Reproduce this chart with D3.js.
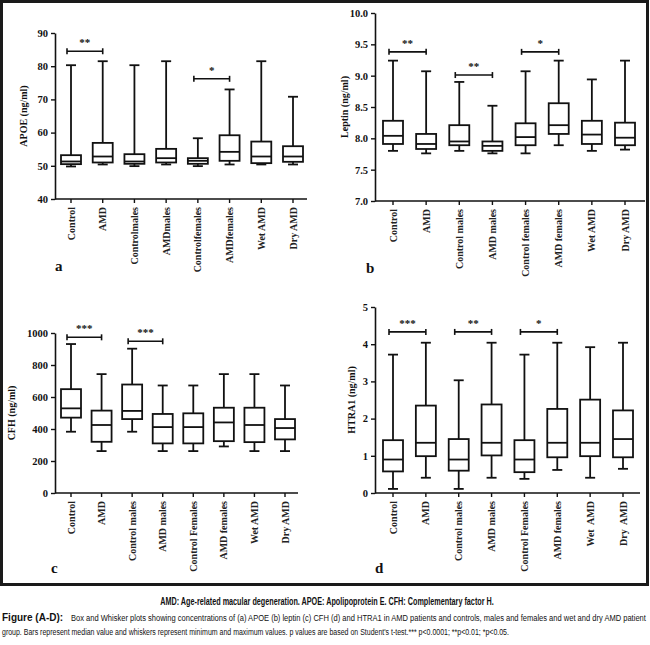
<!DOCTYPE html>
<html>
<head>
<meta charset="utf-8">
<script src="https://cdn.jsdelivr.net/npm/d3@7"></script>
<style>
  body { margin: 0; background: #fff; }
  svg { display: block; }
</style>
</head>
<body>
<svg width="650" height="645"></svg>
<script>
// five number summaries per group: [min, q1, median, q3, max]
const groupsA = ["Control", "AMD", "Controlmales", "AMDmales", "Controlfemales", "AMDfemales", "Wet AMD", "Dry AMD"];
const groupsB = ["Control", "AMD", "Control males", "AMD males", "Control females", "AMD females", "Wet AMD", "Dry AMD"];
const groupsC = ["Control", "AMD", "Control males", "AMD males", "Control Females", "AMD females", "Wet AMD", "Dry AMD"];
const groupsD = ["Control", "AMD", "Control males", "AMD males", "Control Females", "AMD females", "Wet  AMD", "Dry  AMD"];

const apoeStats = [[49.8, 50.5, 51.3, 53.2, 80.3], [50.4, 51.0, 52.8, 56.9, 81.5], [49.9, 50.6, 51.3, 53.5, 80.3], [50.4, 51.0, 52.3, 55.1, 81.5],
                   [49.9, 50.6, 51.5, 52.3, 58.3], [50.4, 51.5, 54.2, 59.2, 73.0], [50.4, 50.8, 52.8, 57.3, 81.5], [50.4, 51.2, 52.8, 55.9, 70.8]];
const apoeTicks = [40, 50, 60, 70, 80, 90];
const apoeSig = [[0, 1, 84.5, "**"], [4, 5, 76.2, "*"]];

const leptinStats = [[7.80, 7.91, 8.04, 8.28, 9.24], [7.76, 7.83, 7.91, 8.07, 9.07], [7.80, 7.89, 7.95, 8.21, 8.90], [7.76, 7.80, 7.88, 7.95, 8.52],
                     [7.76, 7.89, 8.02, 8.24, 9.07], [7.89, 8.07, 8.21, 8.56, 9.24], [7.80, 7.91, 8.06, 8.28, 8.94], [7.82, 7.89, 8.01, 8.25, 9.24]];
const leptinTicks = [7.0, 7.5, 8.0, 8.5, 9.0, 9.5, 10.0];
const leptinSig = [[0, 1, 9.38, "**"], [2, 3, 9.01, "**"], [4, 5, 9.38, "*"]];

const cfhStats = [[383, 471, 529, 649, 931], [262, 320, 425, 515, 743], [383, 462, 513, 678, 902], [262, 310, 412, 494, 672],
                  [262, 310, 412, 498, 672], [291, 324, 441, 533, 743], [262, 318, 425, 533, 743], [262, 335, 406, 462, 672]];
const cfhTicks = [0, 200, 400, 600, 800, 1000];
const cfhSig = [[0, 1, 973, "***"], [2, 3, 948, "***"]];

const htraStats = [[0.11, 0.58, 0.90, 1.42, 3.72], [0.41, 0.99, 1.35, 2.35, 4.04], [0.11, 0.60, 0.90, 1.45, 3.03], [0.41, 1.01, 1.35, 2.38, 4.04],
                   [0.38, 0.56, 0.90, 1.42, 3.72], [0.62, 0.96, 1.35, 2.26, 4.04], [0.41, 0.99, 1.35, 2.51, 3.92], [0.65, 0.96, 1.45, 2.22, 4.04]];
const htraTicks = [0, 1, 2, 3, 4, 5];
const htraSig = [[0, 1, 4.33, "***"], [2, 3, 4.33, "**"], [4, 5, 4.33, "*"]];

const svg = d3.select("svg");
const serif = "'Liberation Serif', 'DejaVu Serif', serif";
const narrow = "'Liberation Sans Narrow', 'Liberation Sans', sans-serif";

// outer frame around the four panels
svg.append("rect")
    .attr("x", 1.5).attr("y", 1.5)
    .attr("width", 646).attr("height", 583)
    .attr("fill", "none").attr("stroke", "#1a1a1a").attr("stroke-width", 3);

const panels = [
    { groups: groupsA, stats: apoeStats, ticks: apoeTicks, sig: apoeSig, fmt: d3.format("d"), label: "APOE (ng/ml)",
      x0: 55, x1: 307, cx: [71, 293], yr: [199, 33], labX: 27, letter: "a", lx: 55, ly: 271 },
    { groups: groupsB, stats: leptinStats, ticks: leptinTicks, sig: leptinSig, fmt: d3.format(".1f"), label: "Leptin (ng/ml)",
      x0: 375, x1: 645, cx: [393, 625], yr: [201, 13], labX: 348, letter: "b", lx: 366, ly: 273 },
    { groups: groupsC, stats: cfhStats, ticks: cfhTicks, sig: cfhSig, fmt: d3.format("d"), label: "CFH (ng/ml)",
      x0: 55, x1: 298, cx: [71, 285], yr: [493, 333], labX: 15, letter: "c", lx: 51, ly: 573 },
    { groups: groupsD, stats: htraStats, ticks: htraTicks, sig: htraSig, fmt: d3.format("d"), label: "HTRA1 (ng/ml)",
      x0: 375, x1: 640, cx: [393, 623], yr: [493, 307], labX: 355, letter: "d", lx: 375, ly: 573 }
];

panels.forEach(function(p) {
    const g = svg.append("g");
    const y = d3.scaleLinear().domain(d3.extent(p.ticks)).range(p.yr);
    const x = d3.scalePoint().domain(d3.range(p.groups.length)).range(p.cx);
    const boxW = 20, capW = 10;

    // y axis
    const yAxis = g.append("g")
        .attr("transform", `translate(${p.x0},0)`)
        .call(d3.axisLeft(y).tickValues(p.ticks).tickFormat(p.fmt).tickSize(4).tickSizeOuter(0));
    yAxis.select(".domain").attr("stroke-width", 1.6).attr("stroke", "#111");
    yAxis.selectAll(".tick line").attr("stroke-width", 1.4).attr("stroke", "#111");
    yAxis.selectAll("text")
        .attr("font-family", serif).attr("font-size", 10.5).attr("font-weight", "bold").attr("fill", "#111");

    // x axis line with category ticks
    const base = p.yr[0];
    g.append("line")
        .attr("x1", p.x0).attr("x2", p.x1).attr("y1", base).attr("y2", base)
        .attr("stroke", "#111").attr("stroke-width", 1.6);
    g.selectAll(".xtick")
        .data(p.groups)
        .enter().append("line")
        .attr("x1", (d, i) => x(i)).attr("x2", (d, i) => x(i))
        .attr("y1", base).attr("y2", base + 4)
        .attr("stroke", "#111").attr("stroke-width", 1.4);
    g.selectAll(".xlab")
        .data(p.groups)
        .enter().append("text")
        .attr("transform", (d, i) => `translate(${x(i) + 3.5},${base + 8}) rotate(-90)`)
        .attr("text-anchor", "end")
        .attr("font-family", serif).attr("font-size", 10).attr("font-weight", "bold").attr("fill", "#222")
        .style("white-space", "pre")
        .text(d => d);

    // y axis title
    g.append("text")
        .attr("transform", `translate(${p.labX},${(p.yr[0] + p.yr[1]) / 2}) rotate(-90)`)
        .attr("text-anchor", "middle")
        .attr("font-family", serif).attr("font-size", 10).attr("font-weight", "bold").attr("fill", "#111")
        .text(p.label);

    // boxes and whiskers
    const box = g.selectAll(".box")
        .data(p.stats)
        .enter().append("g")
        .attr("transform", (d, i) => `translate(${x(i)},0)`)
        .attr("stroke", "#111").attr("stroke-width", 1.8).attr("fill", "none");
    box.append("line")
        .attr("y1", d => y(d[0])).attr("y2", d => y(d[1]));
    box.append("line")
        .attr("y1", d => y(d[3])).attr("y2", d => y(d[4]));
    box.append("line")
        .attr("x1", -capW / 2).attr("x2", capW / 2)
        .attr("y1", d => y(d[0])).attr("y2", d => y(d[0]));
    box.append("line")
        .attr("x1", -capW / 2).attr("x2", capW / 2)
        .attr("y1", d => y(d[4])).attr("y2", d => y(d[4]));
    box.append("rect")
        .attr("x", -boxW / 2).attr("width", boxW)
        .attr("y", d => y(d[3])).attr("height", d => y(d[1]) - y(d[3]));
    box.append("line")
        .attr("x1", -boxW / 2).attr("x2", boxW / 2)
        .attr("y1", d => y(d[2])).attr("y2", d => y(d[2]));

    // significance brackets
    const sig = g.selectAll(".sig")
        .data(p.sig)
        .enter().append("g")
        .attr("stroke", "#111").attr("stroke-width", 1.6);
    sig.append("line")
        .attr("x1", d => x(d[0]) - 4).attr("x2", d => x(d[1]))
        .attr("y1", d => y(d[2])).attr("y2", d => y(d[2]));
    sig.append("line")
        .attr("x1", d => x(d[0]) - 4).attr("x2", d => x(d[0]) - 4)
        .attr("y1", d => y(d[2]) - 3).attr("y2", d => y(d[2]) + 3);
    sig.append("line")
        .attr("x1", d => x(d[1])).attr("x2", d => x(d[1]))
        .attr("y1", d => y(d[2]) - 3).attr("y2", d => y(d[2]) + 3);
    sig.append("text")
        .attr("x", d => (x(d[0]) - 4 + x(d[1])) / 2)
        .attr("y", d => y(d[2]) - 5)
        .attr("text-anchor", "middle")
        .attr("stroke", "none").attr("fill", "#111")
        .attr("font-family", serif).attr("font-size", 11).attr("font-weight", "bold")
        .text(d => d[3]);

    // panel letter
    g.append("text")
        .attr("x", p.lx).attr("y", p.ly)
        .attr("font-family", serif).attr("font-size", 15).attr("font-weight", "bold").attr("fill", "#111")
        .text(p.letter);
});

// captions: squeeze each line horizontally so it fits the width seen in the figure
function caption(str, x, y, width, opts) {
    const t = svg.append("text")
        .attr("font-family", narrow).attr("font-size", opts.size)
        .attr("font-weight", opts.bold ? "bold" : "normal").attr("fill", "#111")
        .attr("text-anchor", opts.anchor || "start")
        .text(str);
    const k = Math.min(1, width / t.node().getComputedTextLength());
    t.attr("transform", `translate(${x},${y}) scale(${k},1)`);
    return t;
}

caption("AMD: Age-related macular degeneration. APOE: Apolipoprotein E. CFH: Complementary factor H.", 327, 605, 334, { size: 10, bold: true, anchor: "middle" });
caption("Figure (A-D):", 2, 621, 66, { size: 10, bold: true });
caption("Box and Whisker plots showing concentrations of (a) APOE (b) leptin (c) CFH (d) and HTRA1 in AMD patients and controls, males and females and wet and dry AMD patient", 71, 621, 576, { size: 9.5 });
caption("group. Bars represent median value and whiskers represent minimum and maximum values. p values are based on Student's t-test.*** p<0.0001; **p<0.01; *p<0.05.", 2, 635, 508, { size: 9.5 });
</script>
</body>
</html>
